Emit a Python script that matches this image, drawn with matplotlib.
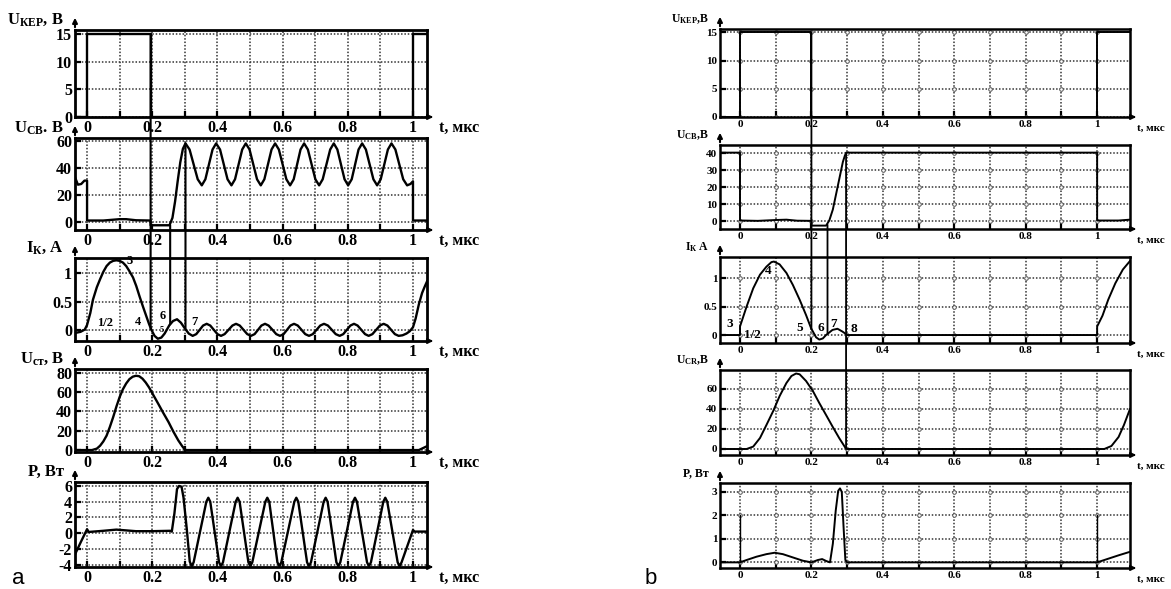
import numpy as np
import matplotlib
matplotlib.use('Agg')
import matplotlib.pyplot as plt
from matplotlib.patches import ConnectionPatch

plt.rcParams['font.family'] = 'Liberation Serif'
plt.rcParams['font.weight'] = 'bold'
plt.rcParams['mathtext.fontset'] = 'custom'
plt.rcParams['mathtext.rm'] = 'Liberation Serif:bold'
plt.rcParams['mathtext.bf'] = 'Liberation Serif:bold'
plt.rcParams['mathtext.it'] = 'Liberation Serif:bold'

W, H = 1171, 589

# ---------------- data, column a ----------------
a_ukep = [(-0.037, 0), (0, 0), (0, 15), (0.195, 15), (0.195, 0), (1.0, 0), (1.0, 15), (1.043, 15)]

a_ucb = [(-0.037, 33), (-0.028, 27.5), (-0.018, 28), (-0.008, 30.5), (0.0, 30.5), (0.0, 1),
         (0.05, 1), (0.1, 2), (0.12, 2), (0.15, 1.2), (0.195, 1), (0.195, -2.5), (0.253, -2.5),
         (0.262, 3), (0.27, 15), (0.278, 30), (0.286, 44), (0.294, 54), (0.302, 58),
         (0.3145, 53.5), (0.327, 42.5), (0.3395, 31.5), (0.352, 27),
         (0.363, 31.5), (0.374, 42.5), (0.385, 53.5), (0.396, 58),
         (0.408, 53.5), (0.4195, 42.5), (0.431, 31.5), (0.443, 27),
         (0.454, 31.5), (0.465, 42.5), (0.476, 53.5), (0.487, 58),
         (0.4985, 53.5), (0.51, 42.5), (0.5215, 31.5), (0.533, 27),
         (0.544, 31.5), (0.555, 42.5), (0.566, 53.5), (0.577, 58),
         (0.5885, 53.5), (0.6, 42.5), (0.6115, 31.5), (0.623, 27),
         (0.634, 31.5), (0.6445, 42.5), (0.655, 53.5), (0.666, 58),
         (0.6775, 53.5), (0.689, 42.5), (0.7005, 31.5), (0.712, 27),
         (0.723, 31.5), (0.7345, 42.5), (0.746, 53.5), (0.757, 58),
         (0.768, 53.5), (0.779, 42.5), (0.79, 31.5), (0.801, 27),
         (0.812, 31.5), (0.8225, 42.5), (0.833, 53.5), (0.844, 58),
         (0.8555, 53.5), (0.867, 42.5), (0.8785, 31.5), (0.89, 27),
         (0.901, 31.5), (0.912, 42.5), (0.923, 53.5), (0.934, 58),
         (0.946, 53.5), (0.958, 42.5), (0.97, 31.5), (0.982, 27),
         (0.992, 28), (1.0, 30), (1.0, 1), (1.043, 1)]

a_ik = [(-0.037, -0.05), (-0.02, -0.03), (-0.007, 0.01), (0.0, 0.09), (0.01, 0.3), (0.018, 0.53),
        (0.03, 0.75), (0.04, 0.89), (0.05, 1.02), (0.06, 1.12), (0.07, 1.18), (0.08, 1.21),
        (0.09, 1.22), (0.1, 1.21), (0.11, 1.18), (0.12, 1.12), (0.13, 1.03), (0.141, 0.92),
        (0.151, 0.77), (0.161, 0.59), (0.171, 0.42), (0.182, 0.24), (0.19, 0.11), (0.197, 0.01),
        (0.207, -0.1), (0.217, -0.15), (0.228, -0.13), (0.238, -0.06), (0.246, 0.02), (0.253, 0.09),
        (0.264, 0.16), (0.276, 0.19), (0.288, 0.13), (0.3, 0.03), (0.312, -0.06), (0.324, -0.1),
        (0.335, -0.07), (0.3455, 0.005), (0.356, 0.08), (0.367, 0.11),
        (0.378, 0.08), (0.389, 0.005), (0.4, -0.07), (0.411, -0.1),
        (0.422, -0.07), (0.434, 0.005), (0.446, 0.08), (0.457, 0.11),
        (0.4685, 0.08), (0.48, 0.005), (0.4915, -0.07), (0.503, -0.1),
        (0.514, -0.07), (0.5245, 0.005), (0.535, 0.08), (0.546, 0.11),
        (0.557, 0.08), (0.569, 0.005), (0.5805, -0.07), (0.592, -0.1),
        (0.603, -0.07), (0.6135, 0.005), (0.624, 0.08), (0.635, 0.11),
        (0.6465, 0.08), (0.658, 0.005), (0.6695, -0.07), (0.681, -0.1),
        (0.6925, -0.07), (0.704, 0.005), (0.7155, 0.08), (0.727, 0.11),
        (0.739, 0.08), (0.751, 0.005), (0.763, -0.07), (0.775, -0.1),
        (0.786, -0.07), (0.797, 0.005), (0.808, 0.08), (0.819, 0.11),
        (0.83, 0.08), (0.8415, 0.005), (0.853, -0.07), (0.864, -0.1),
        (0.8755, -0.07), (0.887, 0.005), (0.8985, 0.08), (0.91, 0.11),
        (0.9215, 0.08), (0.933, 0.005), (0.9445, -0.07), (0.956, -0.1),
        (0.968, -0.09), (0.98, -0.06), (0.99, -0.02), (1.0, 0.05), (1.008, 0.2),
        (1.018, 0.45), (1.028, 0.65), (1.036, 0.76), (1.043, 0.85)]

a_ik_marks = [('1/2', 0.055, 0.13), ('3', 0.13, 1.21), ('4', 0.155, 0.15),
              ('5', 0.228, 0.0), ('6', 0.232, 0.25), ('7', 0.33, 0.15)]

a_ust = [(-0.037, 0), (0.015, 0), (0.03, 1.5), (0.04, 4.5), (0.05, 9), (0.06, 15), (0.07, 24),
         (0.08, 34), (0.09, 45), (0.1, 55), (0.11, 63), (0.12, 69), (0.13, 73.5), (0.14, 76),
         (0.15, 77), (0.16, 76.5), (0.17, 74), (0.18, 70), (0.19, 65), (0.2, 59), (0.21, 53),
         (0.22, 47), (0.233, 39), (0.25, 29), (0.265, 19), (0.28, 10), (0.292, 4), (0.3, 0.5),
         (0.305, 0), (1.018, 0), (1.043, 4)]

a_p = [(-0.037, -2.7), (-0.02, -1.2), (0.0, 0.5), (0.005, 0.15), (0.05, 0.3), (0.09, 0.45),
       (0.15, 0.25), (0.2, 0.25), (0.255, 0.3), (0.26, 0.2), (0.268, 2.5), (0.276, 5.6),
       (0.282, 6.0), (0.29, 5.9), (0.296, 4.5), (0.306, 0.5), (0.315, -3.6), (0.321, -4.2),
       (0.327, -3.7),
       (0.366, 4.0), (0.372, 4.5), (0.378, 4.0), (0.405, -3.7), (0.411, -4.2), (0.417, -3.7),
       (0.456, 4.0), (0.462, 4.5), (0.468, 4.0), (0.495, -3.7), (0.501, -4.2), (0.507, -3.7),
       (0.547, 4.0), (0.553, 4.5), (0.559, 4.0), (0.584, -3.7), (0.59, -4.2), (0.596, -3.7),
       (0.636, 4.0), (0.642, 4.5), (0.648, 4.0), (0.675, -3.7), (0.681, -4.2), (0.687, -3.7),
       (0.726, 4.0), (0.732, 4.5), (0.738, 4.0), (0.765, -3.7), (0.771, -4.2), (0.777, -3.7),
       (0.816, 4.0), (0.822, 4.5), (0.828, 4.0), (0.859, -3.7), (0.865, -4.2), (0.871, -3.7),
       (0.909, 4.0), (0.915, 4.5), (0.921, 4.0), (0.953, -3.7), (0.959, -4.2), (0.965, -3.7),
       (1.0, 0.4), (1.005, 0.2), (1.043, 0.2)]

# ---------------- data, column b ----------------
b_ukep = [(-0.056, 0), (0, 0), (0, 15), (0.2, 15), (0.2, 0), (1.0, 0), (1.0, 15), (1.092, 15)]

b_ucb = [(-0.056, 40.5), (0, 40.5), (0, 0.5), (0.05, 0.3), (0.1, 0.8), (0.13, 1.0), (0.16, 0.4),
         (0.2, 0.3), (0.2, -2.5), (0.241, -2.5), (0.25, 0.5), (0.26, 7), (0.27, 17), (0.28, 27),
         (0.288, 35), (0.294, 39), (0.299, 40.5), (1.0, 40.5), (1.0, 0.5), (1.06, 0.5), (1.092, 1.0)]

b_ik = [(-0.056, 0), (0, 0), (0, 0.15), (0.0185, 0.5), (0.037, 0.82), (0.056, 1.06), (0.074, 1.2),
        (0.088, 1.28), (0.095, 1.29), (0.111, 1.24), (0.13, 1.09), (0.148, 0.88), (0.167, 0.62),
        (0.185, 0.35), (0.199, 0.12), (0.213, -0.04), (0.222, -0.08), (0.232, -0.06), (0.241, 0),
        (0.259, 0.09), (0.273, 0.11), (0.287, 0.06), (0.296, 0.02), (0.3, 0), (1.0, 0), (1.0, 0.15),
        (1.015, 0.34), (1.031, 0.62), (1.051, 0.91), (1.072, 1.15), (1.092, 1.3)]

b_ik_marks = [('3', -0.03, 0.2), ('1/2', 0.035, 0.0), ('4', 0.08, 1.12), ('5', 0.167, 0.12),
              ('6', 0.227, 0.13), ('7', 0.262, 0.2), ('8', 0.318, 0.1)]

b_ucr = [(-0.056, 0), (0.0185, 0), (0.037, 2.4), (0.056, 11), (0.074, 24), (0.093, 38), (0.111, 53),
         (0.13, 66), (0.144, 73), (0.157, 75.5), (0.167, 74.7), (0.185, 68), (0.204, 58), (0.222, 46),
         (0.241, 34), (0.259, 22.5), (0.278, 10.8), (0.296, 0.7), (0.3, 0), (1.02, 0), (1.04, 3),
         (1.06, 12), (1.075, 24), (1.092, 40)]

b_p = [(-0.056, 0), (0, 0), (0.0185, 0.1), (0.046, 0.24), (0.074, 0.35), (0.097, 0.41), (0.12, 0.35),
       (0.148, 0.21), (0.176, 0.07), (0.2, 0.0), (0.218, 0.1), (0.23, 0.14), (0.241, 0.06),
       (0.252, 0), (0.26, 0.8), (0.268, 2.2), (0.275, 3.05), (0.28, 3.15), (0.285, 3.0),
       (0.29, 1.5), (0.295, 0.1), (0.3, 0), (1.0, 0), (1.03, 0.15), (1.06, 0.3), (1.092, 0.45)]
b_p_spikes = [(0.0, 2.0), (1.0, 2.0)]

x_ticks = [0, 0.2, 0.4, 0.6, 0.8, 1.0]
x_tick_labels = ['0', '0.2', '0.4', '0.6', '0.8', '1']

# panel boxes in pixels: (top, bottom)
a_rows = [(30, 117), (138, 230), (258, 341), (369, 452), (482, 567)]
b_rows = [(29, 117), (145, 229), (257, 343), (370, 455), (483, 568)]
a_cols = (75, 427)
b_cols = (720, 1130)

a_ylims = [(0, 15.7), (-6, 62), (-0.19, 1.26), (-2, 84), (-4.3, 6.5)]
b_ylims = [(0, 15.6), (-4.5, 45), (-0.14, 1.37), (-6, 79), (-0.24, 3.38)]
a_yticks = [[0, 5, 10, 15], [0, 20, 40, 60], [0, 0.5, 1], [0, 20, 40, 60, 80], [-4, -2, 0, 2, 4, 6]]
b_yticks = [[0, 5, 10, 15], [0, 10, 20, 30, 40], [0, 0.5, 1], [0, 20, 40, 60], [0, 1, 2, 3]]

a_ylabels = [r'$\mathbf{U}_{\mathbf{КЕР}}$, B', r'$\mathbf{U}_{\mathbf{СВ}}$. B',
             r'$\mathbf{I}_{\mathbf{К}}$, A', r'$\mathbf{U}_{\mathbf{ст}}$, B', 'P, Вт']
b_ylabels = [r'$\mathbf{U}_{\mathbf{КЕР}}$,B', r'$\mathbf{U}_{\mathbf{СВ}}$,B',
             r'$\mathbf{I}_{\mathbf{К}}$ A', r'$\mathbf{U}_{\mathbf{CR}}$,B', 'P, Вт']


def make_panel(fig, cols, row, xlim, ylim, yticks, ylabel, fs, lw_box, circles, t_off):
    x0, x1 = cols
    top, bot = row
    w_px, h_px = x1 - x0, bot - top
    ax = fig.add_axes([x0 / W, 1 - bot / H, w_px / W, h_px / H])
    ax.set_xlim(*xlim)
    ax.set_ylim(*ylim)
    ax.set_xticks(x_ticks)
    ax.set_xticklabels(x_tick_labels)
    ax.set_xticks(np.arange(0.1, 1.0, 0.2), minor=True)
    ax.set_yticks(yticks)
    ax.set_yticklabels([('%g' % v) for v in yticks])
    ax.grid(True, which='both', linestyle=(0, (1.0, 1.2)), color='#333333', lw=1.1)
    ax.set_axisbelow(True)
    ax.tick_params(which='both', direction='in', length=4, width=1.6, labelsize=fs, pad=2)
    for s in ax.spines.values():
        s.set_linewidth(lw_box)
    if circles:
        gx = np.arange(0, 1.01, 0.1)
        GX, GY = np.meshgrid(gx, yticks)
        ax.plot(GX.ravel(), GY.ravel(), 'o', ms=2.6, mfc='white', mec='#555555', mew=0.7, zorder=1.5)
    # axis arrows
    ax.annotate('', xy=(0, 1 + 15 / h_px), xytext=(0, 1), xycoords='axes fraction',
                arrowprops=dict(arrowstyle='-|>', lw=1.5, color='k', mutation_scale=7),
                annotation_clip=False)
    ax.annotate('', xy=(1 + 9 / w_px, 0), xytext=(1, 0), xycoords='axes fraction',
                arrowprops=dict(arrowstyle='-|>', lw=1.5, color='k', mutation_scale=7),
                annotation_clip=False)
    ax.annotate(ylabel, xy=(0, 1 + 10 / h_px), xycoords='axes fraction', xytext=(-8, 0),
                textcoords='offset points', ha='right', va='center', fontsize=fs + 0.5,
                annotation_clip=False)
    ax.annotate('t, мкс', xy=(1, 0), xycoords='axes fraction', xytext=(t_off, -8),
                textcoords='offset points', ha='left', va='center', fontsize=fs,
                annotation_clip=False)
    return ax


def draw(ax, pts, lw):
    pts = np.array(pts, dtype=float)
    ax.plot(pts[:, 0], pts[:, 1], color='black', lw=lw, solid_joinstyle='round')


fig = plt.figure(figsize=(W / 100, H / 100), dpi=100)

a_series = [a_ukep, a_ucb, a_ik, a_ust, a_p]
axes_a = []
for i in range(5):
    ax = make_panel(fig, a_cols, a_rows[i], (-0.037, 1.043), a_ylims[i], a_yticks[i],
                    a_ylabels[i], 11.5, 2.0, False, 9)
    draw(ax, a_series[i], 1.7)
    axes_a.append(ax)
for txt, tx, ty in a_ik_marks:
    axes_a[2].text(tx, ty, txt, fontsize=9 if txt != '5' else 6, ha='center', va='center')

b_series = [b_ukep, b_ucb, b_ik, b_ucr, b_p]
axes_b = []
for i in range(5):
    ax = make_panel(fig, b_cols, b_rows[i], (-0.056, 1.092), b_ylims[i], b_yticks[i],
                    b_ylabels[i], 8, 1.8, True, 5)
    draw(ax, b_series[i], 1.4)
    axes_b.append(ax)
for tx, ty in b_p_spikes:
    axes_b[4].plot([tx, tx], [0, ty], color='black', lw=1.0)
for txt, tx, ty in b_ik_marks:
    axes_b[2].text(tx, ty, txt, fontsize=9.5, ha='center', va='center')

# marker lines that run across panels: (t, panel A, value A, panel B, value B)
a_links = [(0.195, 0, 15, 2, 0.02), (0.255, 1, -2.5, 2, 0.1), (0.302, 1, 58, 2, 0.03)]
b_links = [(0.2, 0, 15, 2, 0.1), (0.245, 1, -2.0, 2, 0.03), (0.297, 1, 40.5, 3, 0.0)]
for links, axs, lw in ((a_links, axes_a, 1.5), (b_links, axes_b, 1.3)):
    for t, ia, va, ib, vb in links:
        con = ConnectionPatch(xyA=(t, va), coordsA=axs[ia].transData,
                              xyB=(t, vb), coordsB=axs[ib].transData, color='black', lw=lw)
        fig.add_artist(con)

fig.text(12 / W, 1 - 578 / H, 'a', family='Liberation Sans', weight='normal', fontsize=16,
         va='center', ha='left')
fig.text(645 / W, 1 - 578 / H, 'b', family='Liberation Sans', weight='normal', fontsize=16,
         va='center', ha='left')

fig.savefig('out.png', dpi=100)
